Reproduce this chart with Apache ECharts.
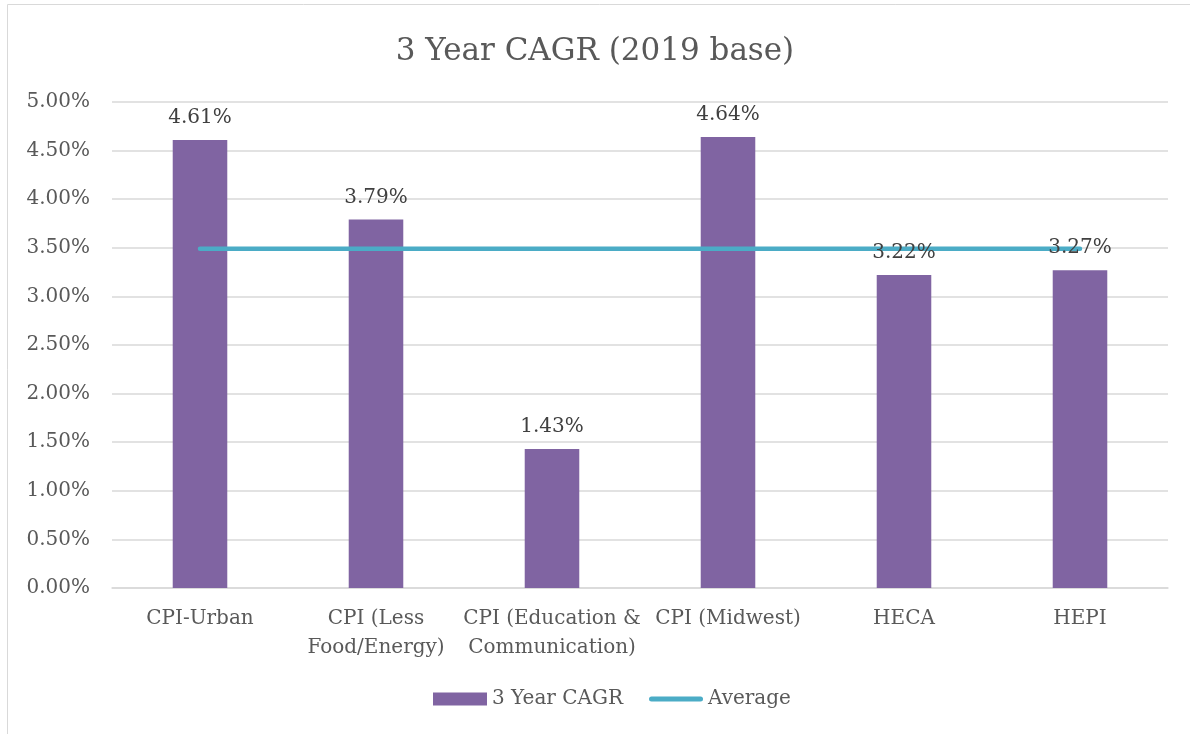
<!DOCTYPE html>
<html>
<head>
<meta charset="utf-8">
<script src="https://cdn.jsdelivr.net/npm/echarts@6/dist/echarts.min.js"></script>
<style>
    body { margin: 0; background: #fff; }
    #chart { width: 1190px; height: 734px; }
</style>
</head>
<body>
<div id="chart"></div>
<script>
    // categories and values (percent)
    const categories = ['CPI-Urban', 'CPI (Less\nFood/Energy)', 'CPI (Education &\nCommunication)', 'CPI (Midwest)', 'HECA', 'HEPI'];
    const cagr = [4.61, 3.79, 1.43, 4.64, 3.22, 3.27];
    const average = [3.49, 3.49, 3.49, 3.49, 3.49, 3.49];
    const yTicks = { min: 0, max: 5, interval: 0.5 };

    const font = '"DejaVu Serif", serif';
    const textColor = '#595959';

    const myChart = echarts.init(document.getElementById('chart'));
    const option = {
        animation: false,
        color: ['#8064A2', '#4BACC6'],
        textStyle: { fontFamily: font },
        title: {
            text: '3 Year CAGR (2019 base)',
            left: 'center',
            top: 31,
            textStyle: { fontFamily: font, fontSize: 31, fontWeight: 'normal', color: textColor }
        },
        graphic: [{
            type: 'rect',
            shape: { x: 7.5, y: 4.5, width: 1200, height: 740 },
            style: { fill: 'none', stroke: '#d9d9d9', lineWidth: 1 },
            silent: true
        }],
        legend: {
            bottom: 20,
            left: 428,
            itemGap: 26,
            itemWidth: 54,
            itemHeight: 13,
            textStyle: { fontFamily: font, fontSize: 20, color: textColor },
            data: [
                { name: '3 Year CAGR', icon: 'rect' },
                // thick rounded line centred in the 54x13 icon box
                { name: 'Average', icon: 'path://M0,0 L0,0 M54,13 L54,13 M2.5,4 L51.5,4 A2.5,2.5 0 0 1 51.5,9 L2.5,9 A2.5,2.5 0 0 1 2.5,4 Z' }
            ]
        },
        grid: { left: 112, right: 22, top: 102, bottom: 146, containLabel: false },
        xAxis: {
            type: 'category',
            data: categories,
            axisLine: { lineStyle: { color: '#d9d9d9', width: 1.5 } },
            axisTick: { show: false },
            axisLabel: { fontFamily: font, fontSize: 20, color: textColor, margin: 16, lineHeight: 29, interval: 0 }
        },
        yAxis: {
            type: 'value',
            min: yTicks.min,
            max: yTicks.max,
            interval: yTicks.interval,
            axisLine: { show: false },
            axisTick: { show: false },
            splitLine: { lineStyle: { color: '#d9d9d9', width: 1.5 } },
            axisLabel: {
                fontFamily: font, fontSize: 20, color: textColor, margin: 22,
                formatter: v => v.toFixed(2) + '%'
            }
        },
        series: [
            {
                name: '3 Year CAGR',
                type: 'bar',
                data: cagr,
                barWidth: '31%',
                z: 2
            },
            {
                name: 'Average',
                type: 'line',
                data: average,
                symbol: 'none',
                lineStyle: { width: 4.5, cap: 'round' },
                z: 3
            },
            {
                // transparent copy of the bars so the value labels sit above the average line
                name: 'labels',
                type: 'bar',
                data: cagr,
                barWidth: '31%',
                barGap: '-100%',
                itemStyle: { color: 'rgba(0,0,0,0)' },
                silent: true,
                z: 4,
                label: {
                    show: true,
                    position: 'top',
                    distance: 12,
                    fontFamily: font,
                    fontSize: 20,
                    color: '#404040',
                    formatter: p => p.value.toFixed(2) + '%'
                }
            }
        ]
    };
    myChart.setOption(option);
</script>
</body>
</html>
